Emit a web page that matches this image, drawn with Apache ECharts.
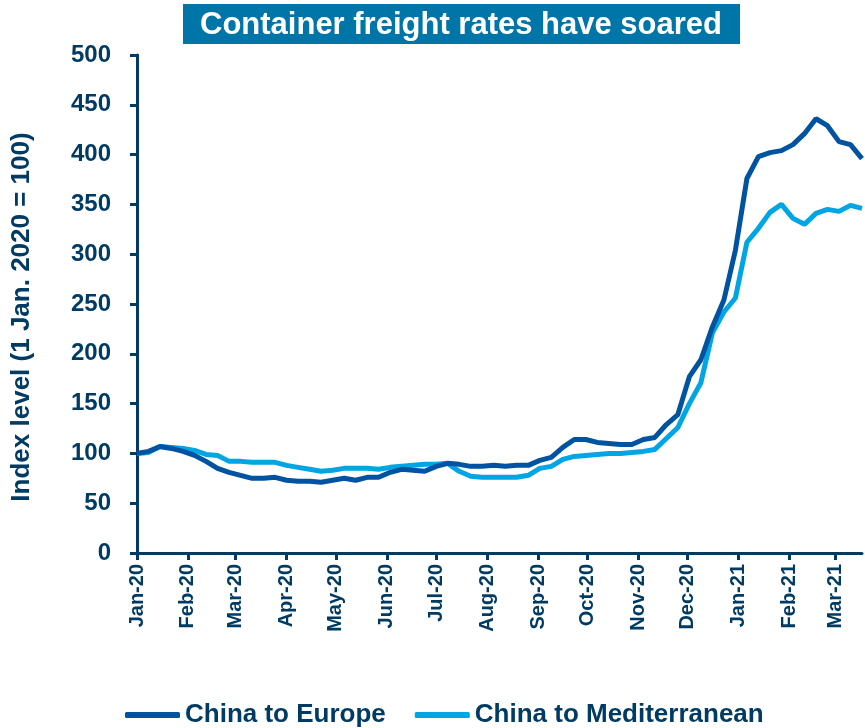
<!DOCTYPE html>
<html>
<head>
<meta charset="utf-8">
<script src="https://cdn.jsdelivr.net/npm/echarts@6/dist/echarts.min.js"></script>
<style>html,body{margin:0;padding:0;background:#fff;}#c{width:865px;height:728px;}</style>
</head>
<body>
<div id="c"></div>
<script>
const titleText = 'Container freight rates have soared';
const yAxisName = 'Index level (1 Jan. 2020 = 100)';
const seriesNames = ['China to Europe', 'China to Mediterranean'];

const weekDates = [
  '2020-01-01','2020-01-08','2020-01-15','2020-01-22','2020-01-29',
  '2020-02-05','2020-02-12','2020-02-19','2020-02-26',
  '2020-03-04','2020-03-11','2020-03-18','2020-03-25',
  '2020-04-01','2020-04-08','2020-04-15','2020-04-22','2020-04-29',
  '2020-05-06','2020-05-13','2020-05-20','2020-05-27',
  '2020-06-03','2020-06-10','2020-06-17','2020-06-24',
  '2020-07-01','2020-07-08','2020-07-15','2020-07-22','2020-07-29',
  '2020-08-05','2020-08-12','2020-08-19','2020-08-26',
  '2020-09-02','2020-09-09','2020-09-16','2020-09-23','2020-09-30',
  '2020-10-07','2020-10-14','2020-10-21','2020-10-28',
  '2020-11-04','2020-11-11','2020-11-18','2020-11-25',
  '2020-12-02','2020-12-09','2020-12-16','2020-12-23','2020-12-30',
  '2021-01-06','2021-01-13','2021-01-20','2021-01-27',
  '2021-02-03','2021-02-10','2021-02-17','2021-02-24',
  '2021-03-03','2021-03-10','2021-03-17'
];

const chinaEurope = [
  100,102,107,105,102,98,92,85,81,78,75,75,76,73,72,72,71,73,75,73,
  76,76,81,84,83,82,87,90,89,87,87,88,87,88,88,93,96,106,114,114,
  111,110,109,109,114,116,129,139,177,194,227,254,304,376,398,402,404,410,421,436,
  429,413,410,396
];

const chinaMed = [
  100,101,107,106,105,103,99,98,92,92,91,91,91,88,86,84,82,83,85,85,
  85,84,86,87,88,89,89,90,82,77,76,76,76,76,78,85,87,94,97,98,
  99,100,100,101,102,104,115,126,150,171,221,242,256,312,326,342,350,336,330,341,
  345,343,349,346
];

const monthTickDates = [
  '2020-01-01','2020-02-01','2020-03-01','2020-04-01','2020-05-01','2020-06-01',
  '2020-07-01','2020-08-01','2020-09-01','2020-10-01','2020-11-01','2020-12-01',
  '2021-01-01','2021-02-01','2021-03-01'
];
const monthTickLabels = [
  'Jan-20','Feb-20','Mar-20','Apr-20','May-20','Jun-20','Jul-20','Aug-20',
  'Sep-20','Oct-20','Nov-20','Dec-20','Jan-21','Feb-21','Mar-21'
];

const navy = '#003B64';
const fontFam = '"Liberation Sans", Arial, sans-serif';

const tickTimes = monthTickDates.map(d => Date.parse(d));
const labelByTime = {};
tickTimes.forEach((t, i) => { labelByTime[t] = monthTickLabels[i]; });

const chart = echarts.init(document.getElementById('c'));
chart.setOption({
  animation: false,
  backgroundColor: '#fff',
  graphic: [
    {
      type: 'group',
      left: 183, top: 4,
      children: [
        { type: 'rect', shape: { x: 0, y: 0, width: 557, height: 40 }, style: { fill: '#0076A8' } },
        { type: 'text', x: 278, y: 21, style: { text: titleText, fill: '#fff', font: 'bold 31px ' + fontFam, align: 'center', verticalAlign: 'middle' } }
      ]
    },
    {
      type: 'text', x: 22, y: 317, rotation: Math.PI / 2,
      style: { text: yAxisName, fill: navy, font: 'bold 26px ' + fontFam, align: 'center', verticalAlign: 'middle' }
    }
  ],
  grid: { left: 137, right: 3, top: 55, bottom: 175, containLabel: false },
  legend: {
    top: 697, left: 120,
    itemWidth: 55, itemHeight: 6, itemGap: 29,
    icon: 'roundRect',
    textStyle: { color: navy, fontFamily: fontFam, fontWeight: 'bold', fontSize: 26 },
    data: seriesNames
  },
  xAxis: {
    type: 'value',
    min: Date.parse(weekDates[0]),
    max: Date.parse(weekDates[weekDates.length - 1]),
    axisLine: { lineStyle: { color: navy, width: 3 } },
    axisTick: { show: true, customValues: tickTimes, length: 7, lineStyle: { color: navy, width: 3 } },
    axisLabel: {
      customValues: tickTimes,
      rotate: 90, margin: 11,
      color: navy, fontFamily: fontFam, fontWeight: 'bold', fontSize: 20,
      formatter: v => labelByTime[v] || ''
    },
    splitLine: { show: false }
  },
  yAxis: {
    type: 'value', min: 0, max: 500, interval: 50,
    axisLine: { show: true, lineStyle: { color: navy, width: 3 } },
    axisTick: { show: true, length: 7, lineStyle: { color: navy, width: 3 } },
    axisLabel: { color: navy, fontFamily: fontFam, fontWeight: 'bold', fontSize: 24, margin: 26 },
    splitLine: { show: false }
  },
  series: [
    {
      name: seriesNames[0], type: 'line', showSymbol: false, symbol: 'none',
      data: weekDates.map((d, i) => [Date.parse(d), chinaEurope[i]]),
      lineStyle: { color: '#0053A0', width: 5 }, itemStyle: { color: '#0053A0' }, z: 3
    },
    {
      name: seriesNames[1], type: 'line', showSymbol: false, symbol: 'none',
      data: weekDates.map((d, i) => [Date.parse(d), chinaMed[i]]),
      lineStyle: { color: '#00A5E3', width: 5 }, itemStyle: { color: '#00A5E3' }, z: 2
    }
  ]
});
</script>
</body>
</html>
